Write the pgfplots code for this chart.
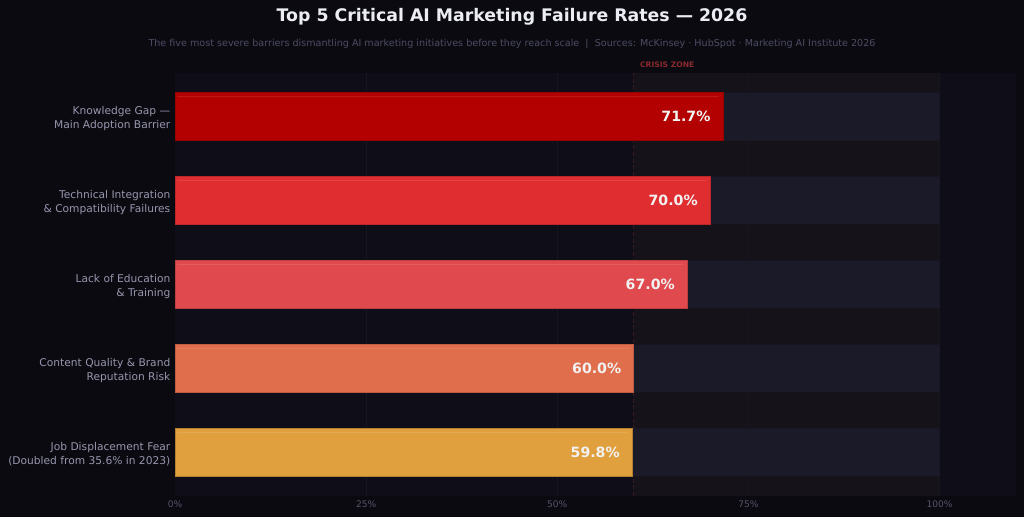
\documentclass[border=0pt]{standalone}
\usepackage{pgfplots}
\pgfplotsset{compat=1.18}
\usepackage{fontspec}
\setmainfont{DejaVu Sans}
\definecolor{figbg}{HTML}{0A0A10}
\definecolor{axbg}{HTML}{0F0E18}
\definecolor{crisis}{HTML}{161219}
\definecolor{track}{HTML}{1B1A28}
\definecolor{gridc}{HTML}{161520}
\definecolor{cA}{HTML}{B30000}
\definecolor{cB}{HTML}{E02E30}
\definecolor{cC}{HTML}{E04A4E}
\definecolor{cD}{HTML}{E06E4C}
\definecolor{cE}{HTML}{E0A03E}
\definecolor{ticktxt}{HTML}{55556A}
\definecolor{cattxt}{HTML}{9896AE}
\definecolor{titletxt}{HTML}{ECECF4}
\definecolor{subtxt}{HTML}{4E4C64}
\definecolor{crisistxt}{HTML}{8B2A2E}
\definecolor{crisisline}{HTML}{3C1820}
\pgfplotsset{mybar/.style={xbar, bar shift=0pt, bar width=0.57}}
\begin{document}
\begin{tikzpicture}
\fill[figbg] (0,0) rectangle (768pt,387.75pt);
\node[text=titletxt, font=\bfseries\fontsize{13}{15}\selectfont] at (384pt,375pt) {Top 5 Critical AI Marketing Failure Rates — 2026};
\node[text=subtxt, font=\fontsize{7.2}{9}\selectfont] at (384pt,355pt) {The five most severe barriers dismantling AI marketing initiatives before they reach scale~~|~~Sources: McKinsey · HubSpot · Marketing AI Institute 2026};
\begin{axis}[
  at={(131.25pt,15.75pt)}, anchor=south west,
  width=630.75pt, height=317.25pt, scale only axis,
  xmin=0, xmax=110, ymin=-0.52, ymax=4.52,
  clip=false,
  axis line style={draw=none},
  tick style={draw=none},
  xtick={0,25,50,75,100},
  xticklabels={0\%,25\%,50\%,75\%,100\%},
  xticklabel style={text=ticktxt, font=\fontsize{6.8}{8}\selectfont},
  /pgf/number format/assume math mode=true,
  ytick={0,1,2,3,4},
  yticklabels={{Job Displacement Fear\\(Doubled from 35.6\% in 2023)},
               {Content Quality \& Brand\\Reputation Risk},
               {Lack of Education\\\& Training},
               {Technical Integration\\\& Compatibility Failures},
               {Knowledge Gap —\\Main Adoption Barrier}},
  yticklabel style={text=cattxt, align=right, font=\fontsize{8}{10.5}\selectfont, xshift=0pt, yshift=-1.5pt},
]
% backgrounds
\addplot[fill=axbg, draw=none] coordinates {(0,-0.52) (110,-0.52) (110,4.52) (0,4.52)} \closedcycle;
\addplot[fill=crisis, draw=none] coordinates {(60,-0.52) (100,-0.52) (100,4.52) (60,4.52)} \closedcycle;
\addplot[gridc, line width=0.5pt] coordinates {(25,-0.52) (25,4.52)};
\addplot[gridc, line width=0.5pt] coordinates {(50,-0.52) (50,4.52)};
\addplot[gridc, line width=0.5pt] coordinates {(75,-0.52) (75,4.52)};
\addplot[gridc, line width=0.5pt] coordinates {(100,-0.52) (100,4.52)};
\addplot[crisisline, densely dashed, line width=0.5pt] coordinates {(60,-0.52) (60,4.52)};
% tracks
\addplot[mybar, fill=track, draw=none] coordinates {(100,0) (100,1) (100,2) (100,3) (100,4)};
% bars
\addplot[mybar, fill=cA, draw=cA!85!black, line width=0.5pt] coordinates {(71.7,4)};
\addplot[mybar, fill=cB, draw=cB!85!black, line width=0.5pt] coordinates {(70.0,3)};
\addplot[mybar, fill=cC, draw=cC!85!black, line width=0.5pt] coordinates {(67.0,2)};
\addplot[mybar, fill=cD, draw=cD!85!black, line width=0.5pt] coordinates {(60.0,1)};
\addplot[mybar, fill=cE, draw=cE!80!black, line width=0.5pt] coordinates {(59.8,0)};
% highlights
\addplot[white, opacity=0.1, line width=0.8pt] coordinates {(0.3,4.235) (71.2,4.235)};
\addplot[white, opacity=0.1, line width=0.8pt] coordinates {(0.3,3.235) (69.5,3.235)};
\addplot[white, opacity=0.1, line width=0.8pt] coordinates {(0.3,2.235) (66.5,2.235)};
\addplot[white, opacity=0.1, line width=0.8pt] coordinates {(0.3,1.235) (59.5,1.235)};
\addplot[white, opacity=0.1, line width=0.8pt] coordinates {(0.3,0.235) (59.3,0.235)};
% value labels
\node[anchor=east, inner xsep=0pt, text=white!95!black, font=\bfseries\fontsize{10.6}{12}\selectfont] at (axis cs:70.07,4) {71.7\%};
\node[anchor=east, inner xsep=0pt, text=white!95!black, font=\bfseries\fontsize{10.6}{12}\selectfont] at (axis cs:68.4,3) {70.0\%};
\node[anchor=east, inner xsep=0pt, text=white!95!black, font=\bfseries\fontsize{10.6}{12}\selectfont] at (axis cs:65.4,2) {67.0\%};
\node[anchor=east, inner xsep=0pt, text=white!95!black, font=\bfseries\fontsize{10.6}{12}\selectfont] at (axis cs:58.4,1) {60.0\%};
\node[anchor=east, inner xsep=0pt, text=white!95!black, font=\bfseries\fontsize{10.6}{12}\selectfont] at (axis cs:58.2,0) {59.8\%};
\node[anchor=base west, inner sep=0pt, text=crisistxt, font=\bfseries\fontsize{5.7}{7}\selectfont, yshift=4pt] at (axis cs:60.8,4.52) {CRISIS ZONE};
\end{axis}
\end{tikzpicture}
\end{document}
